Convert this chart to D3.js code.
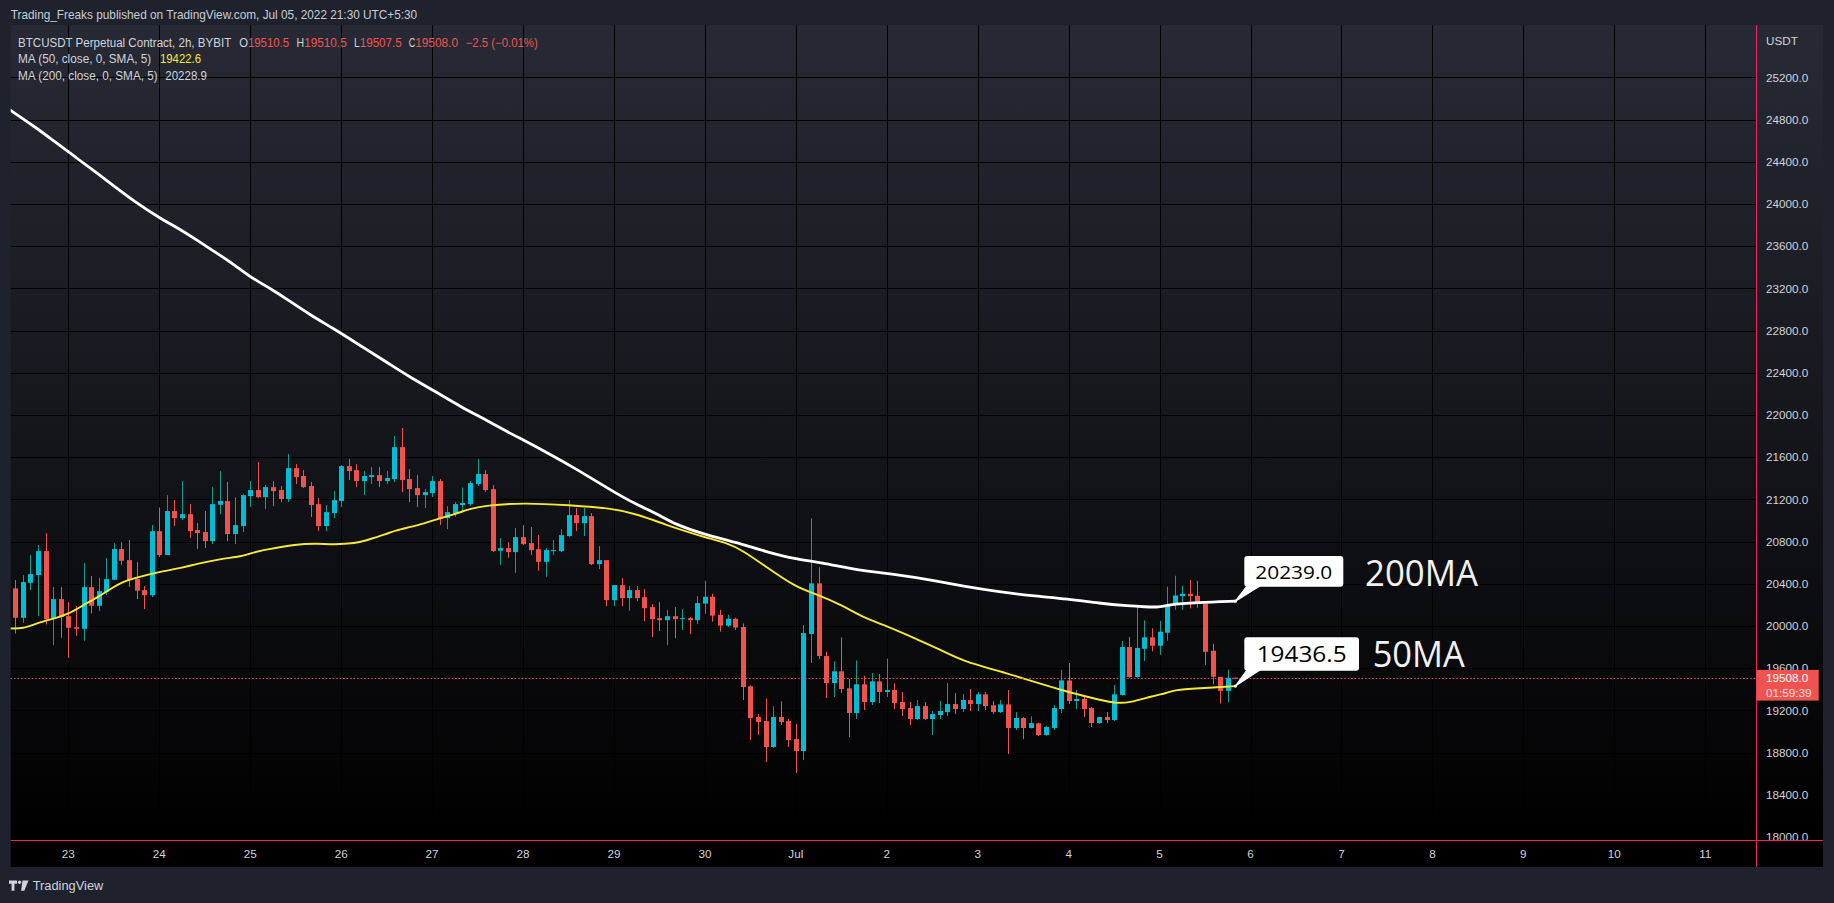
<!DOCTYPE html>
<html><head><meta charset="utf-8">
<script src="https://cdn.jsdelivr.net/npm/d3@7/dist/d3.min.js"></script>
<style>html,body{margin:0;padding:0;background:#1e222d;overflow:hidden}svg{display:block}</style>
</head><body><svg id="c" width="1834" height="903"></svg>
<script>
// ---------------- DATA ----------------
const firstCandle = "2022-06-22T10:00:00Z";   // 2h candles (chart time)
const candleHours = 2;
const openV = [
20356,20078,20409,20482,20710,20065,20255,20093,19989,19973,
20368,20191,20321,20438,20729,20624,20444,20340,20292,20899,
20672,21089,21022,21060,20909,20890,20804,21149,21184,20871,
20947,21231,21288,21221,21316,21288,21203,21496,21421,21326,
21155,20947,21070,21184,21515,21477,21373,21411,21430,21373,
21392,21695,21392,21307,21240,21259,21373,21022,21060,21146,
21155,21345,21440,21297,20713,20738,20700,20842,20785,20728,
20608,20709,20709,20852,21051,20975,21041,20586,20624,20245,
20387,20264,20340,20273,20179,20074,20055,20093,20065,20074,
20055,20212,20277,20105,20004,20068,19990,19428,19137,19099,
18853,19137,19099,18928,18815,19924,20404,19715,19459,19570,
19409,19175,19447,19279,19475,19374,19393,19279,19222,19118,
19241,19118,19156,19184,19260,19213,19298,19260,19352,19248,
19184,19257,19033,19128,19033,19077,18966,19033,19213,19484,
19289,19308,19222,19080,19137,19108,19346,19800,19516,19784,
19892,19813,19936,20200,20283,20305,20286,20210,19765,19518,
19385,19510.5];
const highV = [
20435,20482,20672,20767,20880,20368,20368,20226,20188,20596,
20473,20454,20643,20785,20795,20814,20605,20378,20956,21124,
21240,21193,21373,21155,20975,21089,21316,21468,21364,21221,
21250,21373,21553,21335,21373,21326,21629,21534,21477,21364,
21212,21146,21278,21525,21582,21534,21468,21506,21506,21468,
21800,21876,21487,21430,21297,21421,21392,21136,21174,21313,
21373,21582,21478,21335,20833,20795,20928,20956,20937,20861,
20738,20814,20918,21193,21117,21117,21070,20757,20624,20387,
20454,20378,20378,20349,20207,20226,20150,20179,20160,20084,
20283,20430,20305,20154,20106,20078,20025,19437,19165,19314,
19238,19285,19118,19071,20009,21020,20556,19756,19665,19892,
19497,19674,19526,19554,19545,19690,19456,19374,19279,19298,
19279,19194,19289,19459,19364,19355,19402,19374,19374,19289,
19298,19393,19184,19137,19143,19083,19052,19251,19583,19649,
19393,19336,19232,19137,19184,19440,19857,19895,20189,20053,
19977,20049,20372,20476,20381,20438,20428,20210,19831,19518,
19585,19510.5];
const lowV = [
19929,20030,20340,20093,20014,19818,19888,19698,19907,19860,
20119,20141,20292,20435,20577,20371,20255,20160,20273,20653,
20672,20947,21003,20833,20729,20738,20776,21060,20804,20776,
20890,21127,21215,21108,21136,21174,21174,21345,21307,21032,
20899,20899,21022,21127,21383,21316,21240,21345,21316,21345,
21364,21269,21174,21127,21117,21221,20956,20918,21035,21079,
21139,21326,21272,20700,20580,20646,20504,20766,20672,20523,
20466,20672,20700,20845,20899,20852,20577,20539,20188,20188,
20188,20144,20236,20046,19894,19951,19818,19885,19961,19923,
20017,20115,20040,19947,19990,19962,19298,18919,18966,18710,
18843,19061,18853,18606,18729,19649,19687,19317,19327,19364,
18947,19118,19203,19251,19270,19327,19213,19146,19061,19108,
19108,18966,19118,19146,19165,19184,19194,19194,19203,19165,
19175,18786,19014,18928,19029,18957,18960,19014,19175,19260,
19213,19137,19042,19071,19080,19100,19340,19510,19510,19668,
19759,19727,19860,20154,20154,20166,20172,19632,19446,19265,
19278,19507.5];
const closeV = [
20078,20416,20492,20710,20065,20255,20087,19983,19973,20368,
20191,20330,20444,20729,20618,20435,20334,20292,20899,20672,
21089,21022,21060,20899,20880,20804,21155,21184,20871,20956,
21240,21288,21221,21316,21278,21203,21496,21411,21316,21146,
20947,21079,21193,21515,21468,21373,21421,21430,21373,21402,
21695,21383,21297,21240,21269,21373,21020,21079,21155,21165,
21354,21440,21288,20710,20738,20700,20842,20776,20719,20608,
20719,20719,20861,21051,20975,21041,20586,20624,20245,20387,
20264,20340,20264,20169,20065,20055,20093,20065,20074,20055,
20217,20277,20098,20004,20068,19985,19421,19128,19090,18853,
19137,19090,18919,18815,19933,20404,19715,19459,19570,19402,
19175,19447,19279,19475,19374,19393,19270,19213,19118,19241,
19118,19165,19194,19260,19213,19298,19260,19352,19241,19184,
19257,19033,19128,19033,19080,18966,19042,19222,19484,19289,
19308,19213,19080,19137,19108,19352,19800,19516,19791,19892,
19813,19945,20200,20289,20305,20283,20210,19755,19518,19385,
19509,19508];

// moving averages (candle index, value)
const ma50Index = [-1,1,3,5,7,9,11,13,14,16,19,22,24,27,30,31,33,37,40,42,45,46,49,50,53,55,58,60,62,67,73,79,82,86,89,91,94,96,99,103,106,109,112,115,119,122,125,130,134,139,142,145,147,150,152,153,156,161];
const ma50Value = [19978,19972,20030,20068,20112,20198,20278,20371,20413,20460,20514,20550,20590,20635,20660,20690,20722,20776,20782,20770,20785,20805,20870,20905,20950,21000,21060,21110,21142,21168,21146,21114,21060,20956,20885,20840,20785,20715,20565,20365,20295,20200,20075,20000,19873,19778,19668,19570,19480,19372,19320,19268,19270,19335,19365,19395,19408,19430];
const ma200Index = [-1,3,5,8,11,13,16,19,22,24,27,29,31,34,36,39,42,45,47,49,52,55,59,62,65,67,70,74,79,82,85,87,91,95,99,103,107,110,112,117,121,125,130,134,139,143,147,149,151,152,156,161];
const ma200Value = [24905,24710,24600,24440,24280,24170,24008,23868,23748,23655,23515,23418,23305,23186,23088,22945,22818,22682,22590,22500,22362,22240,22068,21958,21838,21764,21650,21490,21268,21150,21052,20965,20865,20795,20705,20632,20593,20547,20523,20480,20435,20378,20322,20286,20257,20215,20190,20182,20176,20202,20222,20235];

const yTicks = [18000,18400,18800,19200,19600,20000,20400,20800,21200,21600,22000,22400,22800,23200,23600,24000,24400,24800,25200];
const dayTicks = ["2022-06-23","2022-06-24","2022-06-25","2022-06-26","2022-06-27","2022-06-28","2022-06-29","2022-06-30","2022-07-01","2022-07-02","2022-07-03","2022-07-04","2022-07-05","2022-07-06","2022-07-07","2022-07-08","2022-07-09","2022-07-10","2022-07-11"];
const dayLabels = ["23","24","25","26","27","28","29","30","Jul","2","3","4","5","6","7","8","9","10","11"];

const lastPrice = 19508.0;
const lastPriceText = "19508.0";
const countdownText = "01:59:39";
const ma200Callout = "20239.0", ma50Callout = "19436.5";
const headerText = "Trading_Freaks published on TradingView.com, Jul 05, 2022 21:30 UTC+5:30";

// ---------------- LAYOUT ----------------
const W = 1834, Hh = 903;
const paneL = 10.7, paneR = 1756, paneT = 25, paneB = 840, frameR = 1823, frameB = 867;
const HOUR = 3600e3;
const t0 = new Date(firstCandle).getTime();
const tOf = i => new Date(t0 + i * candleHours * HOUR);

const x = d3.scaleUtc()
  .domain([new Date(t0 - 1.214 * HOUR), new Date(t0 + 459.4 * HOUR)])
  .range([paneL, paneR]);
const y = d3.scaleLinear().domain([17971.6, 25695.7]).range([paneB, paneT]);

const UP = "#00bcd4", DOWN = "#ef5350", WICK_UP = "#119c8c", WICK_DN = "#ef5350";
const FONT = "'Liberation Sans', Arial, sans-serif";

const svg = d3.select("#c");
const defs = svg.append("defs");
const g = defs.append("linearGradient").attr("id","bg").attr("x1",0).attr("y1",0).attr("x2",0).attr("y2",1);
g.append("stop").attr("offset","0%").attr("stop-color","#272a35");
g.append("stop").attr("offset","50%").attr("stop-color","#15161b");
g.append("stop").attr("offset","100%").attr("stop-color","#000000");
defs.append("clipPath").attr("id","pane").append("rect")
  .attr("x",paneL).attr("y",paneT).attr("width",paneR-paneL).attr("height",paneB-paneT);

svg.append("rect").attr("width",W).attr("height",Hh).attr("fill","#1e222d");
svg.append("rect").attr("x",paneL).attr("y",paneT).attr("width",frameR-paneL).attr("height",paneB-paneT).attr("fill","url(#bg)");
svg.append("rect").attr("x",paneL).attr("y",paneB).attr("width",frameR-paneL).attr("height",frameB-paneB).attr("fill","#000");

// grid
const grid = svg.append("g").attr("clip-path","url(#pane)");
grid.selectAll("line.h").data(yTicks).join("line")
  .attr("x1",paneL).attr("x2",paneR)
  .attr("y1",d=>Math.round(y(d))+0.5).attr("y2",d=>Math.round(y(d))+0.5)
  .attr("stroke","#000").attr("stroke-width",1);
grid.selectAll("line.v").data(dayTicks).join("line")
  .attr("x1",d=>Math.round(x(new Date(d+"T00:00:00Z")))+0.5).attr("x2",d=>Math.round(x(new Date(d+"T00:00:00Z")))+0.5)
  .attr("y1",paneT).attr("y2",paneB)
  .attr("stroke","#000").attr("stroke-width",1);

// candles
const idx = d3.range(openV.length);
const cg = svg.append("g").attr("clip-path","url(#pane)");
const isUp = i => closeV[i] >= openV[i];
cg.selectAll("line.wick").data(idx).join("line")
  .attr("x1",i=>Math.round(x(tOf(i)))+0.5).attr("x2",i=>Math.round(x(tOf(i)))+0.5)
  .attr("y1",i=>y(highV[i])).attr("y2",i=>y(lowV[i]))
  .attr("stroke",i=>isUp(i)?WICK_UP:WICK_DN).attr("stroke-width",1);
cg.selectAll("rect.body").data(idx).join("rect")
  .attr("x",i=>Math.round(x(tOf(i)))-2).attr("width",5)
  .attr("y",i=>Math.min(y(openV[i]),y(closeV[i])))
  .attr("height",i=>Math.max(1,Math.abs(y(openV[i])-y(closeV[i]))))
  .attr("fill",i=>isUp(i)?UP:DOWN);

// moving averages
const lineGen = d3.line().x(d=>x(tOf(d[0]))).y(d=>y(d[1])).curve(d3.curveBasis);
cg.append("path").attr("d",lineGen(ma200Index.map((v,k)=>[v,ma200Value[k]])))
  .attr("fill","none").attr("stroke","#ffffff").attr("stroke-width",2.8).attr("stroke-linejoin","round");
cg.append("path").attr("d",lineGen(ma50Index.map((v,k)=>[v,ma50Value[k]])))
  .attr("fill","none").attr("stroke","#f7e93a").attr("stroke-width",1.9).attr("stroke-linejoin","round");

// last price dotted line
const yl = Math.round(y(lastPrice))+0.5;
svg.append("line").attr("x1",paneL).attr("x2",paneR).attr("y1",yl).attr("y2",yl)
  .attr("stroke",DOWN).attr("stroke-width",1).attr("stroke-dasharray","1.5,2");

// callouts
function callout(idxEnd, val, text, box, fs, tl, label, lx, lfs, ltl, lbase){
  const px = x(tOf(idxEnd)), py = y(val);
  svg.append("path").attr("d",`M${box.x+3},${box.y+box.h-1}L${box.x+16},${box.y+box.h-1}L${px},${py}Z`)
    .attr("fill","#fff").attr("stroke","#fff").attr("stroke-width",1.2).attr("stroke-linejoin","round");
  svg.append("circle").attr("cx",px).attr("cy",py).attr("r",1.6).attr("fill","#fff");
  svg.append("rect").attr("x",box.x).attr("y",box.y).attr("width",box.w).attr("height",box.h)
    .attr("rx",3).attr("fill","#fff");
  svg.append("text").attr("x",box.x+box.w/2).attr("y",box.base).attr("text-anchor","middle")
    .attr("font-family","'Open Sans', 'DejaVu Sans', sans-serif").attr("font-size",fs)
    .attr("textLength",tl).attr("lengthAdjust","spacingAndGlyphs").attr("fill","#000").text(text);
  svg.append("text").attr("x",lx).attr("y",lbase)
    .attr("font-family","'Open Sans', 'Noto Sans', sans-serif").attr("font-size",lfs)
    .attr("textLength",ltl).attr("lengthAdjust","spacingAndGlyphs").attr("fill","#f2f2f2").text(label);
}
callout(161, ma200Value[ma200Value.length-1], ma200Callout, {x:1244.3,y:556,w:99,h:30.7,base:579.3}, 19, 77, "200MA", 1365, 37, 113, 586);
callout(161, ma50Value[ma50Value.length-1], ma50Callout, {x:1244.3,y:637.3,w:114.7,h:33.4,base:661.7}, 21, 90, "50MA", 1372.7, 37, 92, 667.3);

// separator lines
svg.append("line").attr("x1",paneR+0.5).attr("x2",paneR+0.5).attr("y1",paneT).attr("y2",frameB)
  .attr("stroke","#f0245c").attr("stroke-width",1);
// y axis labels
const ya = svg.append("g");
ya.append("text").attr("x",1766).attr("y",45).attr("font-family",FONT).attr("font-size",11.7).attr("fill","#d1d4dc").text("USDT");
ya.selectAll("text.t").data(yTicks).join("text")
  .attr("x",1766).attr("y",d=>y(d)+4.2).attr("font-family",FONT).attr("font-size",11.7)
  .attr("fill","#d1d4dc").text(d=>d3.format(".1f")(d));
// price box
const py0 = y(lastPrice);
svg.append("rect").attr("x",paneR+0.5).attr("y",py0-8).attr("width",62.2).attr("height",30.7).attr("fill",DOWN);
svg.append("text").attr("x",1766).attr("y",py0+4.3).attr("font-family",FONT).attr("font-size",11.7).attr("fill","#fff").text(lastPriceText);
svg.append("text").attr("x",1766).attr("y",py0+18.8).attr("font-family",FONT).attr("font-size",11.7).attr("fill","#ffe0e0").text(countdownText);
svg.append("line").attr("x1",paneL).attr("x2",frameR).attr("y1",paneB+0.5).attr("y2",paneB+0.5)
  .attr("stroke","#f0245c").attr("stroke-width",1);

// time axis labels
svg.selectAll("text.day").data(dayTicks).join("text")
  .attr("x",d=>x(new Date(d+"T00:00:00Z"))).attr("y",858).attr("text-anchor","middle")
  .attr("font-family",FONT).attr("font-size",11.7).attr("fill","#d1d4dc")
  .text((d,k)=>dayLabels[k]);

// header & legend
function txt(s, x0, yb, w, color, fs){
  svg.append("text").attr("x",x0).attr("y",yb).attr("font-family",FONT).attr("font-size",fs||12)
    .attr("textLength",w).attr("lengthAdjust","spacingAndGlyphs").attr("fill",color).text(s);
}
txt(headerText, 10.7, 18.5, 406.5, "#c9ccd4", 12.2);
txt("BTCUSDT Perpetual Contract, 2h, BYBIT", 18, 46.5, 213.2, "#d1d4dc");
txt("O", 239.2, 46.5, 8.8, "#d1d4dc");
txt("19510.5", 248, 46.5, 41, DOWN);
txt("H", 296.6, 46.5, 7.6, "#d1d4dc");
txt("19510.5", 304.2, 46.5, 42.5, DOWN);
txt("L", 354, 46.5, 5.7, "#d1d4dc");
txt("19507.5", 359.7, 46.5, 42.1, DOWN);
txt("C", 408.7, 46.5, 6.5, "#d1d4dc");
txt("19508.0", 415.2, 46.5, 42.8, DOWN);
txt("\u22122.5 (\u22120.01%)", 465.7, 46.5, 72, DOWN);
txt("MA (50, close, 0, SMA, 5)", 18, 63, 133.2, "#d1d4dc");
txt("19422.6", 160, 63, 41, "#f7e93a");
txt("MA (200, close, 0, SMA, 5)", 18, 79.5, 139.7, "#d1d4dc");
txt("20228.9", 165.3, 79.5, 41.7, "#d1d4dc");

// TradingView logo
const lg = svg.append("g").attr("fill","#d1d4dc");
lg.append("path").attr("d","M9,880.5h8v3.2h-2.6v7h-2.8v-7H9z");
lg.append("circle").attr("cx",19.6).attr("cy",882.3).attr("r",1.7);
lg.append("path").attr("d","M22.5,880.5h6l-4.2,10.2h-3.2z");
txt("TradingView", 32.7, 889.5, 70.6, "#d1d4dc", 12.5);
</script></body></html>
